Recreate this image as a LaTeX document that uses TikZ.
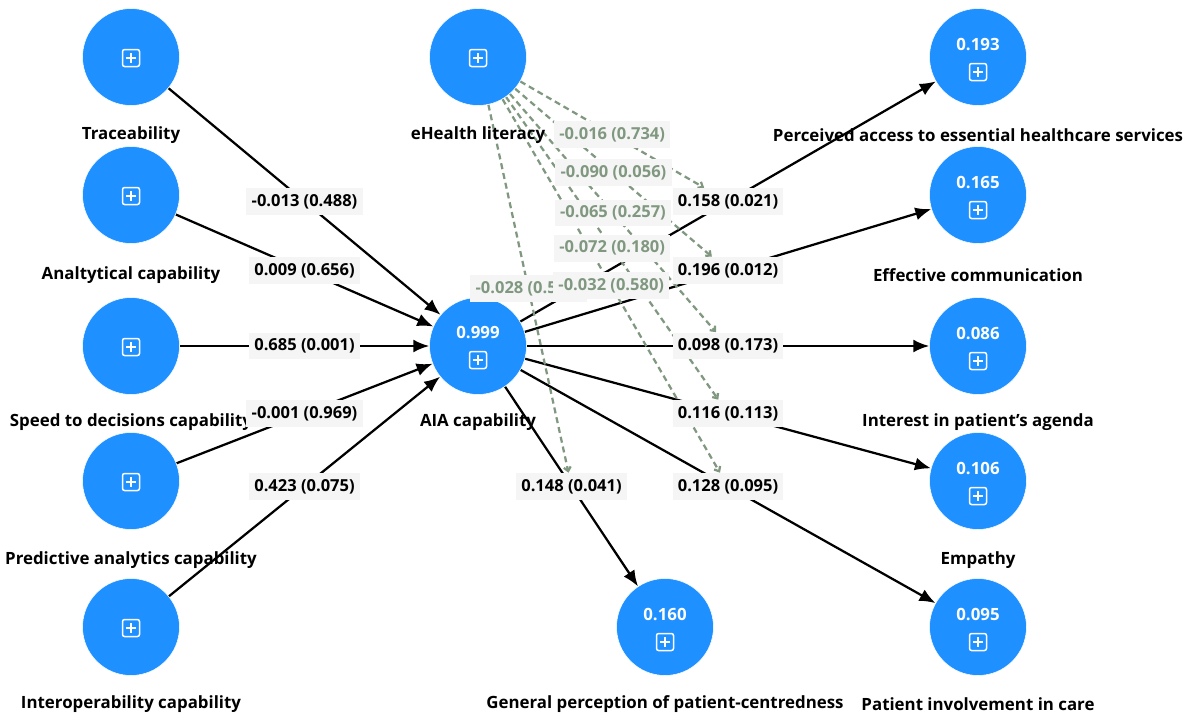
\documentclass[tikz,border=0pt]{standalone}
\usepackage{fontspec}
\setmainfont{Open Sans}
\usetikzlibrary{arrows.meta}
\pgfdeclarelayer{bg}
\pgfsetlayers{bg,main}
\definecolor{bleu}{RGB}{30,144,255}
\definecolor{fond}{RGB}{245,245,245}
\definecolor{modcol}{RGB}{128,152,128}

\begin{document}
\begin{tikzpicture}[x=0.02cm,y=-0.02cm]
\tikzstyle{lien}=[-{Latex[length=3.2mm,width=2.6mm]},line width=0.45mm]
\tikzstyle{moder}=[-{Straight Barb[length=0.8mm,width=1.4mm]},modcol,line width=0.45mm,dash pattern=on 1.2mm off 0.8mm]
\tikzset{var/.style={circle,fill=bleu,draw=white,line width=0.3pt,minimum size=1.94cm,inner sep=0pt},
nom/.style={font=\bfseries\fontsize{9.6}{11}\selectfont,inner sep=1pt},
val/.style={font=\bfseries\fontsize{9.6}{11}\selectfont,text=white,inner sep=1pt},
elab/.style={font=\bfseries\fontsize{9.4}{11}\selectfont,fill=fond,inner xsep=3pt,inner ysep=3.5pt},
mlab/.style={elab,text=modcol},
pbox/.pic={\draw[white,line width=0.3mm,rounded corners=1.2pt] (-8.5,-8.5) rectangle (8.5,8.5);
\draw[white,line width=0.3mm] (-5,0) -- (5,0) (0,-5) -- (0,5);}}
\useasboundingbox (0,0) rectangle (1191,717);

% exogenous constructs
\node[var] (Tr) at (131,57) {};
\node[var] (An) at (131,195) {};
\node[var] (Sp) at (131,346) {};
\node[var] (Pr) at (131,481) {};
\node[var] (In) at (131,627) {};
\node[var] (EH) at (478,57) {};
\foreach \p in {(131,58),(131,196),(131,347),(131,482),(131,628),(478,58)}
  \pic at \p {pbox};
\node[nom] (TrN) at (131,135) {Traceability};
\node[nom] (AnN) at (131,275) {Analtytical capability};
\node[nom] (SpN) at (131,422) {Speed to decisions capability};
\node[nom] (PrN) at (131,560) {Predictive analytics capability};
\node[nom] (InN) at (131,704) {Interoperability capability};
\node[nom] (EHN) at (478,135) {eHealth literacy};

% AIA
\node[var] (AIA) at (478,346) {};
\node[val] (AIAv) at (478,332) {0.999};
\pic at (478,360) {pbox};
\node[nom] (AIAN) at (478,422) {AIA capability};

% outcomes
\node[var] (Pe) at (978,57) {};
\node[var] (Ef) at (978,195) {};
\node[var] (It) at (978,346) {};
\node[var] (Em) at (978,481) {};
\node[var] (Pi) at (978,627) {};
\node[var] (Gp) at (665,627) {};
\node[val] (Pev) at (978,44) {0.193};
\node[val] (Efv) at (978,182) {0.165};
\node[val] (Itv) at (978,333) {0.086};
\node[val] (Emv) at (978,468) {0.106};
\node[val] (Piv) at (978,614) {0.095};
\node[val] (Gpv) at (665,614) {0.160};
\foreach \p in {(978,72),(978,210),(978,361),(978,496),(978,642),(665,642)}
  \pic at \p {pbox};
\node[nom] (PeN) at (978,135) {Perceived access to essential healthcare services};
\node[nom] (EfN) at (978,275) {Effective communication};
\node[nom] (ItN) at (978,422) {Interest in patient's agenda};
\node[nom] (EmN) at (978,560) {Empathy};
\node[nom] (PiN) at (978,704) {Patient involvement in care};
\node[nom] (GpN) at (665,704) {General perception of patient-centredness};

% path coefficients
\path (Tr) -- node[elab] (l1) {-0.013 (0.488)} (AIA);
\path (An) -- node[elab] (l2) {0.009 (0.656)} (AIA);
\path (Sp) -- node[elab] (l3) {0.685 (0.001)} (AIA);
\path (Pr) -- node[elab] (l4) {-0.001 (0.969)} (AIA);
\path (In) -- node[elab] (l5) {0.423 (0.075)} (AIA);
\path (AIA) -- node[elab] (r1) {0.158 (0.021)} (Pe);
\path (AIA) -- node[elab] (r2) {0.196 (0.012)} (Ef);
\path (AIA) -- node[elab] (r3) {0.098 (0.173)} (It);
\path (AIA) -- node[elab] (r4) {0.116 (0.113)} (Em);
\path (AIA) -- node[elab] (r5) {0.128 (0.095)} (Pi);
\path (AIA) -- node[elab] (r6) {0.148 (0.041)} (Gp);

% moderating effects
\path (EH) -- node[mlab] (m6) {-0.028 (0.5\phantom{00)}} (r6);
\path (EH) -- node[mlab] (m1) {-0.016 (0.734)} (r1);
\path (EH) -- node[mlab] (m2) {-0.090 (0.056)} (r2);
\path (EH) -- node[mlab] (m3) {-0.065 (0.257)} (r3);
\path (EH) -- node[mlab] (m4) {-0.072 (0.180)} (r4);
\path (EH) -- node[mlab] (m5) {-0.032 (0.580)} (r5);

\begin{pgfonlayer}{bg}
\foreach \a in {Tr,An,Sp,Pr,In}
  \draw[lien] (\a) -- (AIA);
\foreach \b in {Pe,Ef,It,Em,Pi,Gp}
  \draw[lien] (AIA) -- (\b);
\foreach \r in {r1,r2,r3,r4,r5,r6}
  \draw[moder] (EH) -- (\r);
\end{pgfonlayer}

\end{tikzpicture}
\end{document}
